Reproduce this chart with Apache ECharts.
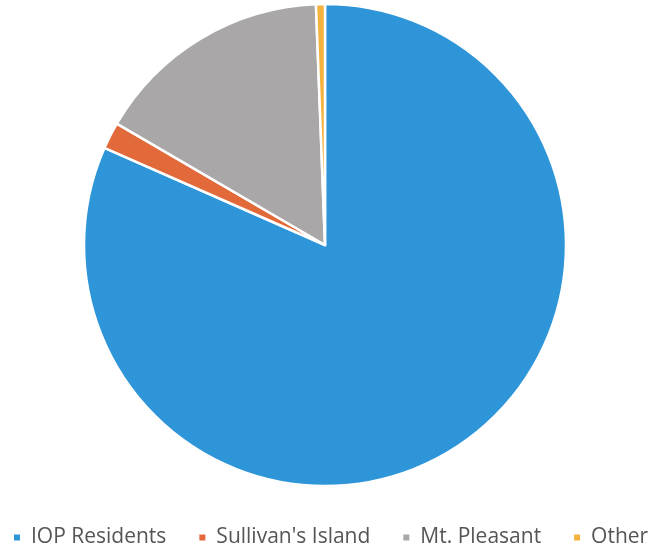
<!DOCTYPE html>
<html>
<head>
<meta charset="utf-8">
<script src="https://cdn.jsdelivr.net/npm/echarts@6/dist/echarts.min.js"></script>
<style>
	html,body{margin:0;padding:0;background:#fff;}
	#chart{width:653px;height:553px;}
</style>
</head>
<body>
<div id="chart"></div>
<script>
	// data (percent)
	var names = ['IOP Residents', "Sullivan's Island", 'Mt. Pleasant', 'Other'];
	var values = [81.6, 1.8, 16.0, 0.6];
	var colors = ['#2E95D9', '#E2693A', '#A9A7A7', '#F4B23E'];

	var myChart = echarts.init(document.getElementById('chart'));
	var pieData = [];
	for (var i = 0; i < names.length; i++) {
		pieData.push({value: values[i], name: names[i]});
	}
	var option = {
		color: colors,
		animation: false,
		legend: {
			left: 12,
			top: 527,
			width: 641,
			padding: 0,
			icon: 'rect',
			itemWidth: 8,
			itemHeight: 8,
			itemGap: 31,
			textStyle: {
				fontFamily: 'Open Sans',
				fontSize: 21,
				color: '#555555',
				padding: [0, 0, 0, 5]
			},
			data: names
		},
		series: [{
			name: 'Residents',
			type: 'pie',
			center: [325, 245],
			radius: 241,
			startAngle: 90,
			clockwise: true,
			label: {show: false},
			labelLine: {show: false},
			itemStyle: {
				borderColor: '#fff',
				borderWidth: 2.5
			},
			data: pieData
		}]
	};
	myChart.setOption(option);
</script>
</body>
</html>
